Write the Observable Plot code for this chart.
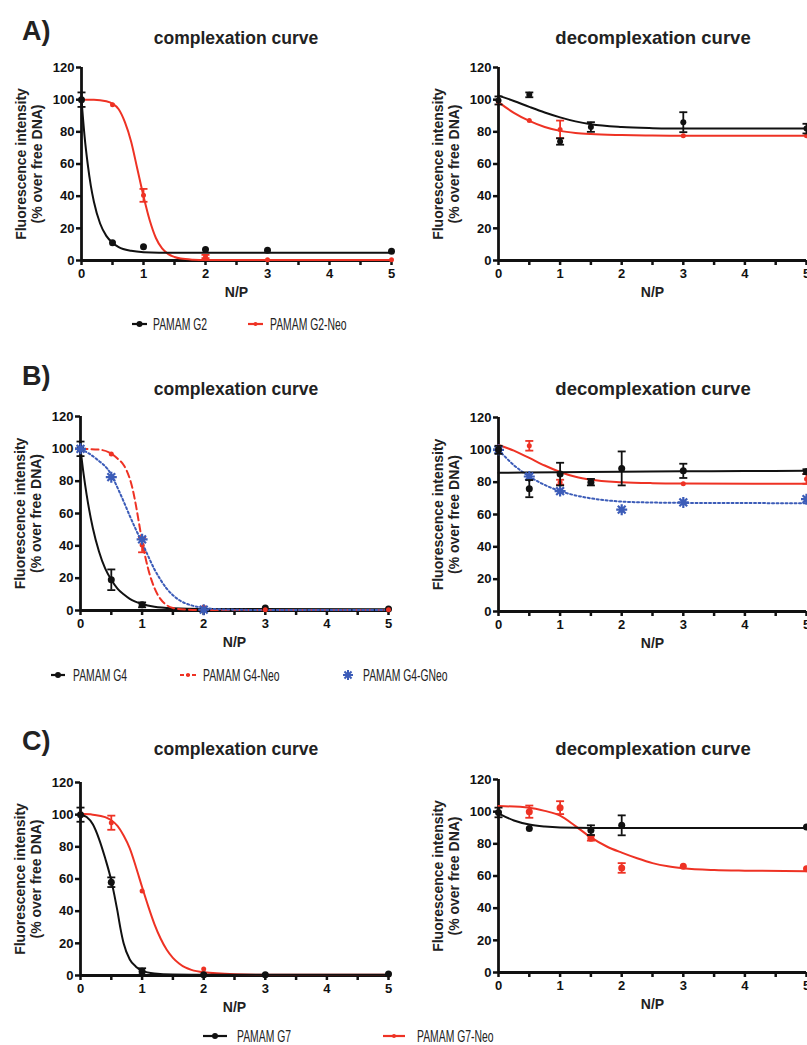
<!DOCTYPE html>
<html><head><meta charset="utf-8">
<script src="https://cdn.jsdelivr.net/npm/d3@7"></script>
<script src="https://cdn.jsdelivr.net/npm/@observablehq/plot@0.6"></script>
<style>
html,body{margin:0;padding:0;background:#fff;}
#fig{position:relative;width:807px;height:1045px;overflow:hidden;background:#fff;font-family:"Liberation Sans",Arial,Helvetica,sans-serif;}
#fig svg{position:absolute;}
</style></head><body><div id="fig"></div>
<script>
// ---------- shared labels / ticks ----------
const xTicks = [0, 1, 2, 3, 4, 5];
const xMinorTicks = [0.5, 1.5, 2.5, 3.5, 4.5];
const yTicks = [0, 20, 40, 60, 80, 100, 120];
const titles = ["complexation curve", "decomplexation curve"];
const panelLetters = ["A)", "B)", "C)"];
const yLabel = "Fluorescence intensity\n(% over free DNA)";
const xLabel = "N/P";
const legendA = ["PAMAM G2", "PAMAM G2-Neo"];
const legendB = ["PAMAM G4", "PAMAM G4-Neo", "PAMAM G4-GNeo"];
const legendC = ["PAMAM G7", "PAMAM G7-Neo"];

// ---------- A) complexation ----------
const npA = [0, 0.5, 1, 2, 3, 5];
const g2CompY = [100, 11, 8.5, 6.8, 6.3, 5.8];
const g2CompErr = [4.5, 0, 0, 0, 0, 0];
const g2NeoCompY = [100, 96.8, 40.5, 2.5, 0.5, 0.5];
const g2NeoCompErr = [0, 0, 4, 1, 0, 0];
const g2CompFitX = [0, 0.05, 0.1, 0.15, 0.2, 0.3, 0.4, 0.5, 0.6, 0.8, 1, 1.5, 2, 5];
const g2CompFitY = [100, 77, 60, 46.5, 36.5, 23, 15.3, 11, 8.3, 6, 5.2, 4.8, 4.8, 4.8];
const g2NeoCompFitX = [0, 0.2, 0.4, 0.5, 0.6, 0.7, 0.8, 0.9, 1, 1.1, 1.2, 1.3, 1.4, 1.5, 1.6, 1.8, 2, 5];
const g2NeoCompFitY = [100, 100, 99, 97.5, 94, 86, 74, 57, 40, 25, 14, 7.5, 4, 2.2, 1.2, 0.5, 0.3, 0.3];

// ---------- A) decomplexation ----------
const g2DecX = [0, 0.5, 1, 1.5, 3, 5];
const g2DecY = [99.5, 103, 74, 83, 86, 82];
const g2DecErr = [2.5, 1.5, 2, 3, 6.2, 3];
const g2NeoDecX = [0, 0.5, 1, 3, 5];
const g2NeoDecY = [98.5, 87, 81.5, 77.5, 77.5];
const g2NeoDecErr = [0, 0, 5.5, 0, 0];
const g2DecFitX = [0, 0.25, 0.5, 0.75, 1, 1.25, 1.5, 2, 2.5, 3, 5];
const g2DecFitY = [102.5, 99.2, 95.5, 92, 89, 86.5, 84.7, 83, 82.3, 82, 82];
const g2NeoDecFitY = [98.5, 91.8, 86.8, 83, 80.6, 79.3, 78.6, 78, 77.7, 77.6, 77.5];

// ---------- B) complexation ----------
const npB = [0, 0.5, 1, 2, 3, 5];
const g4CompY = [100, 19, 3.5, 1, 1.5, 1];
const g4CompErr = [4.5, 6.4, 1.5, 0, 0, 0];
const g4NeoCompY = [100, 96.8, 40.5, 2, 0.5, 0.5];
const g4NeoCompErr = [0, 0, 4.5, 0, 0, 0];
const g4GNeoCompX = [0, 0.5, 1, 2];
const g4GNeoCompY = [100, 82.5, 44, 0.5];
const g4CompFitX = [0, 0.05, 0.1, 0.2, 0.3, 0.4, 0.5, 0.6, 0.7, 0.8, 1, 1.2, 1.5, 2, 5];
const g4CompFitY = [100, 84.5, 71.5, 51, 36.5, 26, 19, 13.5, 10, 7.2, 4, 2.3, 1.4, 1, 0.8];
const g4NeoCompFitX = [0, 0.3, 0.5, 0.6, 0.7, 0.75, 0.8, 0.85, 0.9, 0.95, 1, 1.05, 1.1, 1.2, 1.3, 1.4, 1.5, 1.7, 2, 5];
const g4NeoCompFitY = [100, 99.5, 97, 94, 90, 86.5, 81.5, 74.5, 65, 54, 43, 33.5, 25.5, 14, 7, 3.3, 1.6, 0.6, 0.3, 0.3];
const g4GNeoCompFitX = [0, 0.25, 0.5, 0.6, 0.7, 0.8, 0.9, 1, 1.1, 1.2, 1.3, 1.4, 1.5, 1.6, 1.7, 1.8, 2, 2.3, 3, 5];
const g4GNeoCompFitY = [100, 94, 84, 76, 67.5, 58.5, 50, 42, 33.5, 25.5, 19, 13.5, 9.5, 6.5, 4.5, 3.2, 1.6, 0.7, 0.3, 0.3];

// ---------- B) decomplexation ----------
const g4DecX = [0, 0.5, 1, 1.5, 2, 3, 5];
const g4DecY = [100, 76, 85, 80, 88.5, 87, 86.5];
const g4DecErr = [2.5, 5.3, 7, 2, 10.5, 4.4, 1.5];
const g4NeoDecX = [0, 0.5, 1, 3, 5];
const g4NeoDecY = [100, 102.5, 80, 79, 82];
const g4NeoDecErr = [0, 3, 1.5, 0, 3];
const g4GNeoDecX = [0, 0.5, 1, 2, 3, 5];
const g4GNeoDecY = [100, 83.5, 74.5, 63, 67.5, 69.5];
const g4DecFitX = [0, 1, 2, 3, 4, 5];
const g4DecFitY = [85.8, 86.2, 86.5, 86.7, 86.9, 87];
const g4NeoDecFitX = [0, 0.25, 0.5, 0.75, 1, 1.25, 1.5, 2, 2.5, 3, 5];
const g4NeoDecFitY = [103, 99.5, 95, 90.3, 86.3, 83.3, 81.5, 80, 79.4, 79.2, 79];
const g4GNeoDecFitY = [100, 90.5, 83.5, 78.3, 74.5, 71.8, 70, 68, 67.4, 67.2, 67];

// ---------- C) complexation ----------
const npC = [0, 0.5, 1, 2, 3, 5];
const g7CompY = [100, 58, 2.5, 0.5, 0.5, 1];
const g7CompErr = [4.4, 3, 2, 0, 0, 0];
const g7NeoCompY = [100.5, 95, 52.5, 4, 0.5, 0.5];
const g7NeoCompErr = [0, 4.4, 0, 0, 0, 0];
const g7CompFitX = [0, 0.1, 0.2, 0.3, 0.4, 0.5, 0.55, 0.6, 0.65, 0.7, 0.8, 0.9, 1, 1.2, 1.5, 2, 5];
const g7CompFitY = [100, 98.5, 94, 85, 73, 59, 50, 40, 29, 20, 10, 5.5, 3, 1.2, 0.6, 0.5, 0.5];
const g7NeoCompFitX = [0, 0.2, 0.4, 0.5, 0.6, 0.7, 0.8, 0.9, 1, 1.1, 1.2, 1.3, 1.4, 1.5, 1.6, 1.7, 1.8, 2, 2.5, 3, 5];
const g7NeoCompFitY = [100.5, 100, 98.5, 96.5, 93, 87, 79, 67.5, 55, 43, 32, 23, 16, 11, 7.5, 5, 3.5, 2, 0.8, 0.5, 0.5];

// ---------- C) decomplexation ----------
const g7DecX = [0, 0.5, 1.5, 2, 5];
const g7DecY = [99.5, 89.5, 88.5, 91.5, 90.5];
const g7DecErr = [3, 0, 3, 6.2, 0];
const g7NeoDecX = [0.5, 1, 1.5, 2, 3, 5];
const g7NeoDecY = [100, 102.5, 83.5, 65, 66, 64.5];
const g7NeoDecErr = [3.8, 4, 1.5, 3, 0, 0];
const g7DecFitX = [0, 0.25, 0.5, 0.75, 1, 1.5, 2, 5];
const g7DecFitY = [99, 94.5, 92, 90.8, 90.2, 89.9, 89.9, 89.9];
const g7NeoDecFitX = [0, 0.5, 0.75, 1, 1.25, 1.5, 1.75, 2, 2.25, 2.5, 2.75, 3, 3.5, 4, 5];
const g7NeoDecFitY = [103.5, 102.5, 100.5, 97.5, 91, 84, 78.5, 74.5, 71, 68, 66, 64.8, 63.7, 63.3, 63];

// ---------- styling ----------
const BLACK = "#111";
const RED = "#ee3224";
const BLUE = "#3c5cb8";
const FONT = '"Liberation Sans", Arial, Helvetica, sans-serif';

const capSymbol = {draw(ctx) { ctx.moveTo(-4, 0); ctx.lineTo(4, 0); }};
const starSymbol = {draw(ctx, size) {
  const r = Math.sqrt(size / Math.PI), d = r * 0.7071;
  ctx.moveTo(0, -r); ctx.lineTo(0, r);
  ctx.moveTo(-r, 0); ctx.lineTo(r, 0);
  ctx.moveTo(-d, -d); ctx.lineTo(d, d);
  ctx.moveTo(-d, d); ctx.lineTo(d, -d);
}};

function zip(xs, ys, es) { return xs.map((x, i) => ({x, y: ys[i], e: es ? es[i] : 0})); }

function lineMarks(s) {
  return [Plot.line(zip(s.fitX, s.fitY), {x: "x", y: "y", stroke: s.color, strokeWidth: 2,
    strokeDasharray: s.dash || null, curve: "monotone-x"})];
}
function pointMarks(s) {
  const pts = zip(s.x, s.y, s.err);
  const withErr = pts.filter(d => d.e > 0);
  const out = [
    Plot.ruleX(withErr, {x: "x", y1: d => d.y - d.e, y2: d => d.y + d.e, stroke: s.color, strokeWidth: 1.8}),
    Plot.dot(withErr, {x: "x", y: d => d.y + d.e, symbol: capSymbol, fill: "none", stroke: s.color, strokeWidth: 1.8}),
    Plot.dot(withErr, {x: "x", y: d => d.y - d.e, symbol: capSymbol, fill: "none", stroke: s.color, strokeWidth: 1.8})
  ];
  if (s.star) out.push(Plot.dot(pts, {x: "x", y: "y", symbol: starSymbol, r: 5.5, fill: "none", stroke: s.color, strokeWidth: 2.2}));
  else out.push(Plot.dot(pts, {x: "x", y: "y", r: s.r || 3.5, fill: s.color, stroke: "none"}));
  return out;
}

const fig = document.getElementById("fig");

function makePanel(frame, seriesList) {
  const ml = 90, mr = 20, mt = 10, mb = 50;
  const w = frame.x1 - frame.x0 + ml + mr;
  const h = frame.y1 - frame.y0 + mt + mb;
  const marks = [
    Plot.axisY({ticks: yTicks, tickSize: 5, tickPadding: 2, strokeWidth: 2.5, label: null, fontSize: 13, fontWeight: "bold", tickFormat: d => String(d)}),
    Plot.axisX({ticks: xTicks, tickSize: 5, tickPadding: 3, strokeWidth: 2.5, label: null, fontSize: 13, fontWeight: "bold", tickFormat: d => String(d)}),
    Plot.axisX({ticks: xMinorTicks, tickSize: 5, strokeWidth: 2.5, label: null, tickFormat: () => ""}),
    Plot.ruleX([0], {strokeWidth: 2.8, stroke: BLACK}),
    Plot.ruleY([0], {strokeWidth: 2.8, stroke: BLACK}),
    ...seriesList.flatMap(lineMarks),
    ...seriesList.flatMap(pointMarks),
    Plot.text([yLabel], {text: d => d, frameAnchor: "left", textAnchor: "middle", dx: -53, rotate: -90, fontSize: 14, fontWeight: "bold", lineHeight: 1.15, fill: "#222"}),
    Plot.text([xLabel], {text: d => d, frameAnchor: "bottom", dy: 36, fontSize: 14, fontWeight: "bold", fill: "#222"})
  ];
  const svg = Plot.plot({
    width: w, height: h, marginLeft: ml, marginRight: mr, marginTop: mt, marginBottom: mb,
    x: {domain: [0, 5]}, y: {domain: [0, 120]},
    style: {fontFamily: FONT, fontSize: "13px", fontWeight: "bold", background: "transparent", overflow: "visible", color: BLACK},
    marks
  });
  svg.style.position = "absolute";
  svg.style.left = (frame.x0 - ml) + "px";
  svg.style.top = (frame.y0 - mt) + "px";
  svg.style.maxWidth = "none";
  fig.appendChild(svg);
}

// A
makePanel({x0: 81, x1: 391, y0: 67, y1: 260}, [
  {x: npA, y: g2NeoCompY, err: g2NeoCompErr, fitX: g2NeoCompFitX, fitY: g2NeoCompFitY, color: RED, r: 2.5},
  {x: npA, y: g2CompY, err: g2CompErr, fitX: g2CompFitX, fitY: g2CompFitY, color: BLACK}
]);
makePanel({x0: 498, x1: 806, y0: 67, y1: 260}, [
  {x: g2NeoDecX, y: g2NeoDecY, err: g2NeoDecErr, fitX: g2DecFitX, fitY: g2NeoDecFitY, color: RED, r: 2.5},
  {x: g2DecX, y: g2DecY, err: g2DecErr, fitX: g2DecFitX, fitY: g2DecFitY, color: BLACK, r: 3}
]);
// B
makePanel({x0: 80, x1: 388, y0: 416, y1: 610}, [
  {x: npB, y: g4CompY, err: g4CompErr, fitX: g4CompFitX, fitY: g4CompFitY, color: BLACK},
  {x: npB, y: g4NeoCompY, err: g4NeoCompErr, fitX: g4NeoCompFitX, fitY: g4NeoCompFitY, color: RED, r: 2.5, dash: "7,4"},
  {x: g4GNeoCompX, y: g4GNeoCompY, err: null, fitX: g4GNeoCompFitX, fitY: g4GNeoCompFitY, color: BLUE, dash: "2,2.5", star: true}
]);
makePanel({x0: 498, x1: 806, y0: 417, y1: 611}, [
  {x: g4NeoDecX, y: g4NeoDecY, err: g4NeoDecErr, fitX: g4NeoDecFitX, fitY: g4NeoDecFitY, color: RED, r: 2.5},
  {x: g4GNeoDecX, y: g4GNeoDecY, err: null, fitX: g4NeoDecFitX, fitY: g4GNeoDecFitY, color: BLUE, dash: "2,2.5", star: true},
  {x: g4DecX, y: g4DecY, err: g4DecErr, fitX: g4DecFitX, fitY: g4DecFitY, color: BLACK}
]);
// C
makePanel({x0: 80, x1: 388, y0: 782, y1: 975}, [
  {x: npC, y: g7NeoCompY, err: g7NeoCompErr, fitX: g7NeoCompFitX, fitY: g7NeoCompFitY, color: RED, r: 2.5},
  {x: npC, y: g7CompY, err: g7CompErr, fitX: g7CompFitX, fitY: g7CompFitY, color: BLACK}
]);
makePanel({x0: 498, x1: 806, y0: 779, y1: 972}, [
  {x: g7NeoDecX, y: g7NeoDecY, err: g7NeoDecErr, fitX: g7NeoDecFitX, fitY: g7NeoDecFitY, color: RED, r: 3.5},
  {x: g7DecX, y: g7DecY, err: g7DecErr, fitX: g7DecFitX, fitY: g7DecFitY, color: BLACK}
]);

// ---------- overlay: panel letters, titles, legends ----------
const ov = d3.select(fig).append("svg").attr("width", 807).attr("height", 1045)
  .style("left", "0px").style("top", "0px").style("pointer-events", "none")
  .attr("font-family", FONT);

const rows = [
  {letterY: 40, titleY: 44},
  {letterY: 385, titleY: 395},
  {letterY: 750, titleY: 755}
];
rows.forEach((r, i) => {
  ov.append("text").attr("x", 22).attr("y", r.letterY).attr("font-size", 27).attr("font-weight", "bold").attr("fill", "#222").text(panelLetters[i]);
  ov.append("text").attr("x", 236).attr("y", r.titleY).attr("text-anchor", "middle").attr("font-size", 17.5).attr("font-weight", "bold").attr("fill", "#222").text(titles[0]);
  ov.append("text").attr("x", 653).attr("y", r.titleY).attr("text-anchor", "middle").attr("font-size", 18.5).attr("font-weight", "bold").attr("fill", "#222").text(titles[1]);
});

function legendItem(x0, x1, y, color, dash, dotR, star, textX, label) {
  const g = ov.append("g");
  if (!star) {
    g.append("line").attr("x1", x0).attr("x2", x1).attr("y1", y).attr("y2", y)
      .attr("stroke", color).attr("stroke-width", 2.2).attr("stroke-dasharray", dash || null);
    g.append("circle").attr("cx", (x0 + x1) / 2).attr("cy", y).attr("r", dotR).attr("fill", color);
  } else {
    const cx = (x0 + x1) / 2, r = 5, d = r * 0.7071;
    g.append("path").attr("d", `M${cx},${y - r}L${cx},${y + r}M${cx - r},${y}L${cx + r},${y}M${cx - d},${y - d}L${cx + d},${y + d}M${cx - d},${y + d}L${cx + d},${y - d}`)
      .attr("stroke", color).attr("stroke-width", 2).attr("fill", "none");
  }
  g.append("text").attr("transform", `translate(${textX},${y + 6}) scale(0.63,1)`)
    .attr("font-size", 16.5).attr("fill", "#222").text(label);
}
legendItem(132, 147, 324, BLACK, null, 3, false, 153, legendA[0]);
legendItem(248, 263, 324, RED, null, 2, false, 270, legendA[1]);
legendItem(51, 65, 675, BLACK, null, 3, false, 73, legendB[0]);
legendItem(180, 196, 675, RED, "4,2", 2, false, 203, legendB[1]);
legendItem(343, 353, 675, BLUE, null, 0, true, 363, legendB[2]);
legendItem(203, 227, 1036, BLACK, null, 3, false, 237, legendC[0]);
legendItem(383, 405, 1036, RED, null, 2, false, 417, legendC[1]);
</script></body></html>
